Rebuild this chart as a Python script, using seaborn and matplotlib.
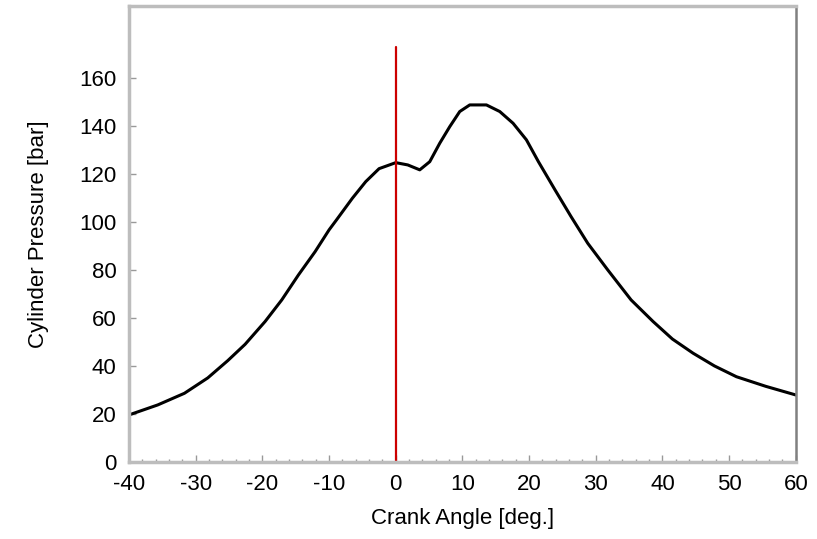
import numpy as np
import pandas as pd
import seaborn as sns
import matplotlib.pyplot as plt
from matplotlib.ticker import MultipleLocator

# Values
crank_angle = [-40, -35.7, -31.7, -28.2, -25.2, -22.6, -19.6, -17.1, -14.6, -12.1, -10.0,
               -8.9, -6.5, -4.5, -2.5, 0, 1.8, 3.6, 5.1, 6.6, 8.1, 9.6, 11.1, 13.6, 15.6,
               17.6, 19.6, 21.4, 23.9, 26.3, 28.8, 31.8, 35.3, 38.6, 41.5, 44.6, 47.8,
               51.1, 55.5, 60]
cylinder_pressure = [19.6, 23.75, 28.6, 35.0, 42.2, 49.0, 58.5, 67.5, 77.9, 87.6, 96.7,
                     100.8, 109.9, 116.8, 122.2, 124.7, 123.75, 121.7, 125.1, 132.8, 139.7,
                     146.0, 148.75, 148.75, 146.0, 141.1, 134.2, 125.1, 113.3, 102.2, 91.1,
                     80.0, 67.5, 58.5, 51.2, 45.3, 40.0, 35.5, 31.5, 27.9]
tdc_angle = 0
tdc_top = 173

x_ticks = list(range(-40, 61, 10))
y_ticks = list(range(0, 161, 20))

df = pd.DataFrame({'Crank Angle': crank_angle, 'Pressure': cylinder_pressure})

sns.set_style('ticks')
plt.rcParams['font.family'] = ['Liberation Sans', 'DejaVu Sans']
plt.rcParams['axes.unicode_minus'] = False

fig = plt.figure(figsize=(8.17, 5.39), dpi=100)
ax = fig.add_axes([0.158, 0.143, 0.816, 0.846])

sns.lineplot(data=df, x='Crank Angle', y='Pressure', color='black', linewidth=2.2,
             solid_joinstyle='round', ax=ax)
ax.plot([tdc_angle, tdc_angle], [0, tdc_top], color='#cc0000', linewidth=1.6)

ax.set_xlim(-40, 60)
ax.set_ylim(0, 190)
ax.set_xticks(x_ticks)
ax.set_yticks(y_ticks)
ax.xaxis.set_minor_locator(MultipleLocator(2))

ax.tick_params(axis='both', which='major', direction='in', length=5, width=1,
               color='#999999', labelsize=16, labelcolor='black', pad=9)
ax.tick_params(axis='x', which='minor', direction='in', length=2.5, width=1, color='#999999')

for side in ['left', 'top', 'bottom']:
    ax.spines[side].set_color('#bdbdbd')
    ax.spines[side].set_linewidth(2.5)
ax.spines['right'].set_color('#808080')
ax.spines['right'].set_linewidth(1.8)

ax.set_xlabel('Crank Angle [deg.]', fontsize=16, color='black', labelpad=9)
ax.set_ylabel('Cylinder Pressure [bar]', fontsize=16, color='black', labelpad=22)

fig.savefig('out.png', dpi=100)
